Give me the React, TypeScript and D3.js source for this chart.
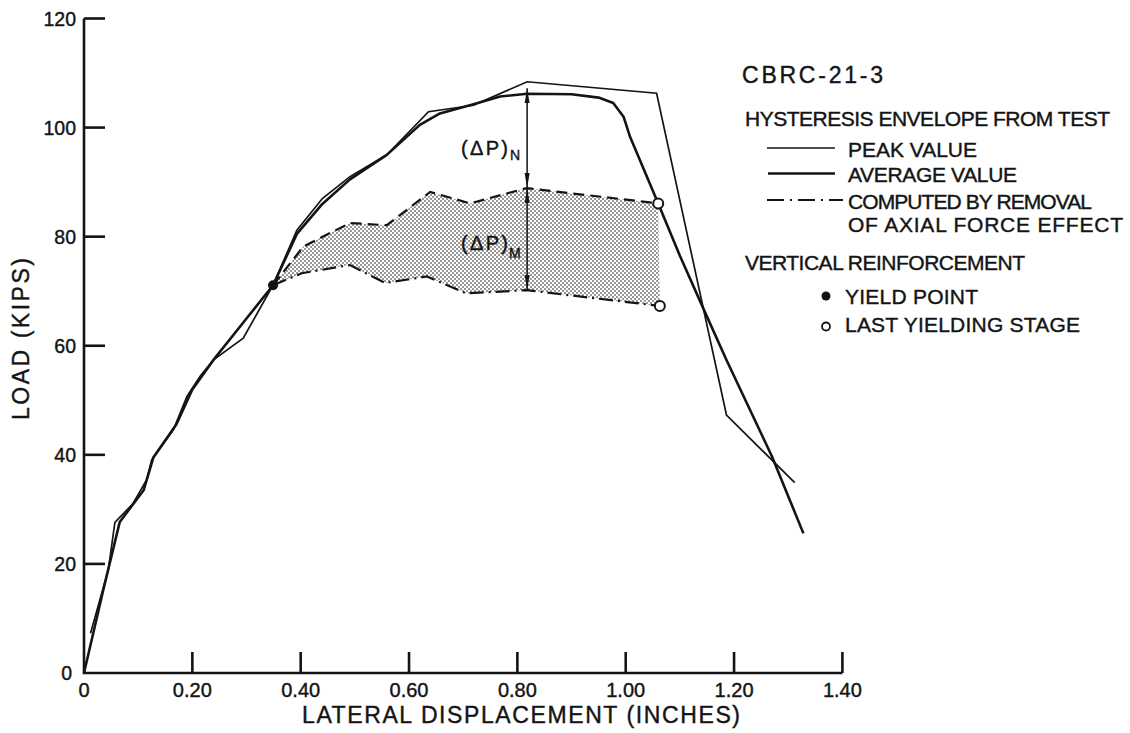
import React, { useEffect, useRef } from 'react';
import * as d3 from 'd3';

// values: lateral displacement (in) and load (kips)
const peakDisp = [0.012, 0.045, 0.057, 0.09, 0.116, 0.125, 0.165, 0.19, 0.215, 0.239, 0.294, 0.349, 0.393, 0.44, 0.491, 0.559, 0.636, 0.719, 0.818, 1.057, 1.186, 1.312];
const peakLoad = [7.3, 19, 27.6, 31, 35.5, 39.1, 44.6, 50.7, 54.5, 57.4, 61.4, 71.1, 81.2, 87, 91, 95, 102.9, 104.1, 108.4, 106.3, 47.3, 34.9];

const avgDisp = [0, 0.035, 0.066, 0.11, 0.128, 0.17, 0.2, 0.239, 0.3, 0.349, 0.393, 0.44, 0.491, 0.559, 0.62, 0.657, 0.719, 0.768, 0.818, 0.9, 0.95, 0.977, 0.996, 1.008, 1.06, 1.1, 1.143, 1.186, 1.27, 1.328];
const avgLoad = [0, 15, 27.7, 33.5, 39.5, 45.5, 52, 57.4, 65, 71.1, 80.5, 86, 90.5, 95, 100.5, 102.6, 104.3, 105.7, 106.2, 106.1, 105.5, 104.5, 102, 98.3, 86.1, 76.5, 66.9, 57.4, 39.7, 25.6];

// band computed by removal of axial force effect
const upperDisp = [0.349, 0.405, 0.491, 0.559, 0.639, 0.713, 0.817, 1.06];
const upperLoad = [71.1, 78.2, 82.5, 82.1, 88.2, 86.1, 88.9, 86.1];
const lowerDisp = [0.349, 0.402, 0.491, 0.556, 0.633, 0.706, 0.817, 1.063];
const lowerLoad = [71.1, 73.3, 74.8, 71.5, 72.7, 69.6, 70.2, 67.3];

const yieldPoint = [0.349, 71.1];
const lastYield = [[1.06, 86.1], [1.063, 67.3]];

const xTicks = [0.2, 0.4, 0.6, 0.8, 1.0, 1.2, 1.4];
const xTickLabels = ['0.20', '0.40', '0.60', '0.80', '1.00', '1.20', '1.40'];
const yTicks = [0, 20, 40, 60, 80, 100, 120];

const INK = '#141414';
const FONT = 'Liberation Sans, Arial, sans-serif';

function zip(a: number[], b: number[]) {
    return a.map((v, i) => [v, b[i]] as [number, number]);
}

function Chart() {
    const ref = useRef<SVGSVGElement>(null);

    useEffect(() => {
        const svg = d3.select(ref.current);
        svg.selectAll('*').remove();

        const x = d3.scaleLinear().domain([0, 1.4]).range([84, 842.4]);
        const y = d3.scaleLinear().domain([0, 120]).range([673, 18.5]);

        const defs = svg.append('defs');
        const pat = defs.append('pattern')
            .attr('id', 'stipple')
            .attr('patternUnits', 'userSpaceOnUse')
            .attr('width', 4)
            .attr('height', 4);
        pat.append('circle').attr('cx', 1).attr('cy', 1).attr('r', 0.9).attr('fill', '#666');
        pat.append('circle').attr('cx', 3).attr('cy', 3).attr('r', 0.9).attr('fill', '#666');

        defs.append('marker')
            .attr('id', 'tip')
            .attr('viewBox', '0 0 15 6')
            .attr('refX', 15)
            .attr('refY', 3)
            .attr('markerUnits', 'userSpaceOnUse')
            .attr('markerWidth', 15)
            .attr('markerHeight', 6)
            .attr('orient', 'auto-start-reverse')
            .append('path')
            .attr('d', 'M0,0.5 L15,3 L0,5.5 Z')
            .attr('fill', INK);

        const line = d3.line<[number, number]>()
            .x(d => x(d[0]))
            .y(d => y(d[1]));

        const upper = zip(upperDisp, upperLoad);
        const lower = zip(lowerDisp, lowerLoad);

        // shaded band
        svg.append('path')
            .attr('d', line(upper.concat(lower.slice().reverse())) + 'Z')
            .attr('fill', 'url(#stipple)')
            .attr('stroke', 'none');

        svg.append('path')
            .attr('d', line(upper))
            .attr('fill', 'none')
            .attr('stroke', INK)
            .attr('stroke-width', 2.2)
            .attr('stroke-dasharray', '11 6');

        svg.append('path')
            .attr('d', line(lower))
            .attr('fill', 'none')
            .attr('stroke', INK)
            .attr('stroke-width', 2.2)
            .attr('stroke-dasharray', '14 5 2 5');

        // envelopes
        svg.append('path')
            .attr('d', line(zip(peakDisp, peakLoad)))
            .attr('fill', 'none')
            .attr('stroke', INK)
            .attr('stroke-width', 1.7)
            .attr('stroke-linejoin', 'miter');

        svg.append('path')
            .attr('d', line(zip(avgDisp, avgLoad)))
            .attr('fill', 'none')
            .attr('stroke', INK)
            .attr('stroke-width', 2.6)
            .attr('stroke-linejoin', 'round');

        // axes
        svg.append('path')
            .attr('d', `M${x(0)},${y(120)} L${x(0)},${y(0)} L${x(1.4)},${y(0)}`)
            .attr('fill', 'none')
            .attr('stroke', INK)
            .attr('stroke-width', 2.6);

        svg.append('g').selectAll('line')
            .data(yTicks.filter(t => t > 0))
            .enter()
            .append('line')
            .attr('x1', x(0)).attr('x2', x(0) + 21)
            .attr('y1', d => y(d)).attr('y2', d => y(d))
            .attr('stroke', INK).attr('stroke-width', 2.6);

        svg.append('g').selectAll('line')
            .data(xTicks)
            .enter()
            .append('line')
            .attr('x1', d => x(d)).attr('x2', d => x(d))
            .attr('y1', y(0)).attr('y2', y(0) - 21)
            .attr('stroke', INK).attr('stroke-width', 2.6);

        svg.append('g').selectAll('text')
            .data(yTicks)
            .enter()
            .append('text')
            .attr('x', d => (d === 0 ? 72 : 76))
            .attr('y', d => y(d) + 7)
            .attr('text-anchor', 'end')
            .attr('font-family', FONT)
            .attr('font-size', 19.5)
            .attr('fill', INK)
            .attr('stroke', INK)
            .attr('stroke-width', 0.4)
            .text(d => String(d));

        svg.append('text')
            .attr('x', x(0))
            .attr('y', 697)
            .attr('text-anchor', 'middle')
            .attr('font-family', FONT)
            .attr('font-size', 20)
            .attr('fill', INK)
            .attr('stroke', INK)
            .attr('stroke-width', 0.4)
            .text('0');

        svg.append('g').selectAll('text')
            .data(xTicks)
            .enter()
            .append('text')
            .attr('x', d => x(d))
            .attr('y', 697)
            .attr('text-anchor', 'middle')
            .attr('font-family', FONT)
            .attr('font-size', 20)
            .attr('fill', INK)
            .attr('stroke', INK)
            .attr('stroke-width', 0.4)
            .text((d, i) => xTickLabels[i]);

        const addText = (tx: number, ty: number, str: string, size: number, len?: number, anchor = 'start') => {
            const t = svg.append('text')
                .attr('x', tx)
                .attr('y', ty)
                .attr('text-anchor', anchor)
                .attr('font-family', FONT)
                .attr('font-size', size)
                .attr('fill', INK)
                .attr('stroke', INK)
                .attr('stroke-width', 0.4)
                .text(str);
            if (len) t.attr('textLength', len).attr('lengthAdjust', 'spacing');
            return t;
        };

        // axis titles
        addText(521, 723, 'LATERAL DISPLACEMENT (INCHES)', 23, 438, 'middle');
        addText(0, 0, 'LOAD (KIPS)', 23, 162, 'middle')
            .attr('transform', 'translate(29,339) rotate(-90)');

        // delta P arrows
        const ax = x(0.818);
        svg.append('line')
            .attr('x1', ax).attr('x2', ax)
            .attr('y1', y(107.2)).attr('y2', y(88.9))
            .attr('stroke', INK).attr('stroke-width', 1.5)
            .attr('marker-start', 'url(#tip)').attr('marker-end', 'url(#tip)');
        svg.append('line')
            .attr('x1', ax).attr('x2', ax)
            .attr('y1', y(88.9)).attr('y2', y(70.2))
            .attr('stroke', INK).attr('stroke-width', 1.5)
            .attr('marker-start', 'url(#tip)').attr('marker-end', 'url(#tip)');

        addText(461, 155, '(ΔP)', 20, 47);
        addText(510, 160, 'N', 14);
        addText(461, 250, '(ΔP)', 20, 47);
        addText(509, 258, 'M', 14);

        // yield markers
        svg.append('circle')
            .attr('cx', x(yieldPoint[0])).attr('cy', y(yieldPoint[1]))
            .attr('r', 5).attr('fill', INK);
        svg.append('g').selectAll('circle')
            .data(lastYield)
            .enter()
            .append('circle')
            .attr('cx', d => x(d[0])).attr('cy', d => y(d[1]))
            .attr('r', 5).attr('fill', '#fff')
            .attr('stroke', INK).attr('stroke-width', 2);

        // legend
        addText(742, 83, 'CBRC-21-3', 23, 141);
        addText(745, 126, 'HYSTERESIS ENVELOPE FROM TEST', 21, 365);
        svg.append('line').attr('x1', 767).attr('x2', 835).attr('y1', 148).attr('y2', 148)
            .attr('stroke', INK).attr('stroke-width', 1.6);
        addText(848, 157, 'PEAK VALUE', 21, 129);
        svg.append('line').attr('x1', 768).attr('x2', 835).attr('y1', 173.5).attr('y2', 173.5)
            .attr('stroke', INK).attr('stroke-width', 2.6);
        addText(848, 182, 'AVERAGE VALUE', 21, 169);
        svg.append('line').attr('x1', 767).attr('x2', 843).attr('y1', 200).attr('y2', 200)
            .attr('stroke', INK).attr('stroke-width', 2)
            .attr('stroke-dasharray', '17 6 2 6');
        addText(848, 208.5, 'COMPUTED BY REMOVAL', 21, 244);
        addText(848, 232, 'OF AXIAL FORCE EFFECT', 21, 275);
        addText(745, 270, 'VERTICAL REINFORCEMENT', 21, 280);
        svg.append('circle').attr('cx', 826).attr('cy', 296).attr('r', 4.5).attr('fill', INK);
        addText(845, 303.5, 'YIELD POINT', 21, 133);
        svg.append('circle').attr('cx', 826).attr('cy', 326.5).attr('r', 4)
            .attr('fill', '#fff').attr('stroke', INK).attr('stroke-width', 1.8);
        addText(845, 332, 'LAST YIELDING STAGE', 21, 235);
    }, []);

    return <svg ref={ref} width={1130} height={733} style={{ display: 'block', background: '#fff' }} />;
}

export default function App() {
    useEffect(() => {
        document.body.style.margin = '0';
        document.body.style.overflow = 'hidden';
    }, []);
    return <Chart />;
}
